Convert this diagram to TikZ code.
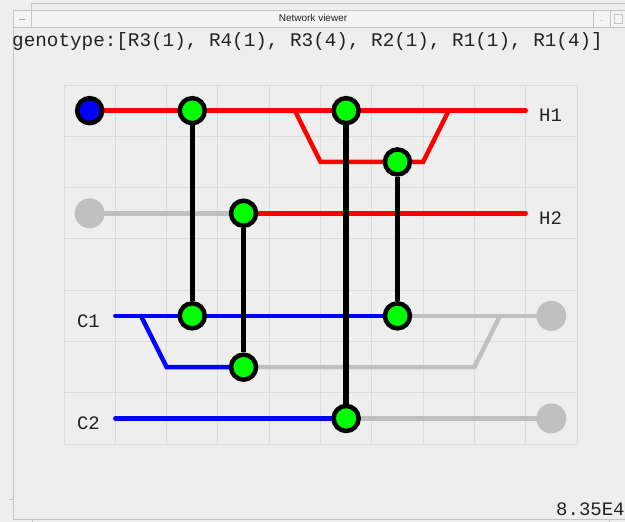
\documentclass[tikz,border=0pt]{standalone}
\usepackage{fontspec}
\setmainfont{Liberation Serif}
\newfontfamily\monofont{Liberation Mono}
\newfontfamily\titlefont{Liberation Sans}
\pgfdeclarelayer{bg}
\pgfdeclarelayer{wires}
\pgfdeclarelayer{links}
\pgfsetlayers{bg,wires,links,main}
\definecolor{winbg}{HTML}{EEEEEE}
\definecolor{titlebg}{HTML}{F4F4F4}
\definecolor{framecol}{HTML}{C4C4C4}
\definecolor{gridcol}{HTML}{DCDCDC}
\definecolor{wred}{HTML}{FF0000}
\definecolor{wblue}{HTML}{0000FF}
\definecolor{wgray}{HTML}{C0C0C0}
\definecolor{ngreen}{HTML}{00FF00}
\definecolor{txtcol}{HTML}{222222}
\tikzset{
  gene/.style={circle, draw=black, line width=4.5pt, fill=ngreen, minimum size=25pt, inner sep=0pt},
  startnode/.style={circle, draw=black, line width=4.5pt, fill=wblue, minimum size=25pt, inner sep=0pt},
  idle/.style={circle, fill=wgray, minimum size=30pt, inner sep=0pt},
  wire/.style={line width=4.5pt, line cap=round, line join=miter},
  thicklink/.style={line width=5.5pt, black},
  thinlink/.style={line width=4.2pt, black},
  lbl/.style={anchor=base west, inner sep=0pt, font=\monofont\fontsize{19.3}{22}\selectfont, text=txtcol},
  framel/.style={draw=framecol, line width=0.8pt}
}
\begin{document}
\begin{tikzpicture}[x=1pt, y=-1pt]
\begin{pgfonlayer}{bg}
\fill[winbg] (0,0) rectangle (625,522);
\end{pgfonlayer}
\useasboundingbox (0,0) rectangle (625,522);
% window frame
\fill[titlebg] (13,10) rectangle (625,27);
\draw[framel] (31,3) -- (625,3);
\draw[framel] (13,10) -- (625,10);
\draw[framel] (13,27) -- (625,27);
\draw[framel] (31,3) -- (31,27);
\draw[framel] (13,10) -- (13,519);
\draw[framel] (9,499) -- (13,499);
\draw[framel] (13,519) -- (625,519);
\draw[framel] (32,519) -- (32,522);
\draw[framel] (609,519) -- (609,522);
\draw[framel] (593,10) -- (593,27);
\draw[framel] (610,10) -- (610,27);
\draw[framel] (614,14) rectangle (622,23);
\draw[draw=gray!70, line width=1pt] (19,19) -- (25,19);
\fill[gray!60] (600.5,19.5) rectangle (602,21);
\node[inner sep=0pt, font=\titlefont\fontsize{10}{12}\selectfont, text=txtcol] (title) at (313,18) {Network viewer};
\node[lbl] (geno) at (12,46) {genotype:[R3(1), R4(1), R3(4), R2(1), R1(1), R1(4)]};
\node[lbl, font=\monofont\fontsize{19}{22}\selectfont] (score) at (556,515) {8.35E4};
\begin{scope}[shift={(64,85)}, x=51.3pt, y=-51.3pt]
\begin{pgfonlayer}{bg}
\foreach \i in {0,...,10} \draw[gridcol, line width=1pt] (\i,0) -- (\i,7);
\foreach \j in {0,...,7} \draw[gridcol, line width=1pt] (0,\j) -- (10,\j);
\end{pgfonlayer}
% nodes
\node[startnode] (s1) at (0.5,0.5) {};
\node[idle] (s2) at (0.5,2.5) {};
\node[gene] (g1) at (2.5,0.5) {};
\node[gene] (g2) at (5.5,0.5) {};
\node[gene] (g3) at (6.5,1.5) {};
\node[gene] (g4) at (3.5,2.5) {};
\node[gene] (g5) at (2.5,4.5) {};
\node[gene] (g6) at (6.5,4.5) {};
\node[gene] (g7) at (3.5,5.5) {};
\node[gene] (g8) at (5.5,6.5) {};
\node[idle] (e1) at (9.5,4.5) {};
\node[idle] (e2) at (9.5,6.5) {};
\coordinate (h1end) at (9,0.5);
\coordinate (h2end) at (9,2.5);
\coordinate (c1start) at (1,4.5);
\coordinate (c2start) at (1,6.5);
\coordinate (h1a) at (4.5,0.5);
\coordinate (h1b) at (5,1.5);
\coordinate (h1c) at (7,1.5);
\coordinate (h1d) at (7.5,0.5);
\coordinate (c1a) at (1.5,4.5);
\coordinate (c1b) at (2,5.5);
\coordinate (c1c) at (8,5.5);
\coordinate (c1d) at (8.5,4.5);
% labels
\node[lbl, font=\monofont\fontsize{19}{22}\selectfont] (lh1) at (9.26,0.72) {H1};
\node[lbl, font=\monofont\fontsize{19}{22}\selectfont] (lh2) at (9.26,2.72) {H2};
\node[lbl, font=\monofont\fontsize{19}{22}\selectfont] (lc1) at (0.25,4.72) {C1};
\node[lbl, font=\monofont\fontsize{19}{22}\selectfont] (lc2) at (0.25,6.72) {C2};
\begin{pgfonlayer}{wires}
\draw[wire, wred] (s1) -- (g1) -- (g2) -- (h1end);
\draw[wire, wred] (h1a) -- (h1b) -- (g3) -- (h1c) -- (h1d);
\draw[wire, wgray] (s2) -- (g4);
\draw[wire, wred] (g4) -- (h2end);
\draw[wire, wblue] (c1start) -- (g5) -- (g6);
\draw[wire, wgray] (g6) -- (e1);
\draw[wire, wblue] (c1a) -- (c1b) -- (g7);
\draw[wire, wgray] (g7) -- (c1c) -- (c1d);
\draw[wire, wblue] (c2start) -- (g8);
\draw[wire, wgray] (g8) -- (e2);
\end{pgfonlayer}
\begin{pgfonlayer}{links}
\draw[thicklink] (g1) -- (g5);
\draw[thinlink] (g4) -- (g7);
\draw[thicklink] (g2) -- (g8);
\draw[thinlink] (g3) -- (g6);
\end{pgfonlayer}
\end{scope}
\end{tikzpicture}
\end{document}
